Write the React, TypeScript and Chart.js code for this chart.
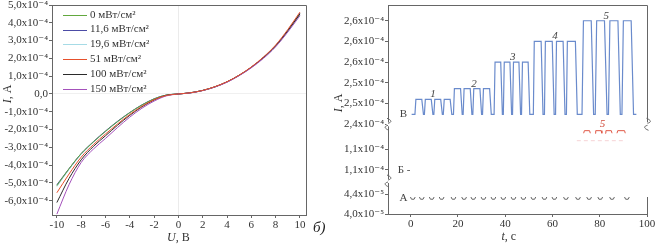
import React, { useEffect, useRef } from "react";
import { Chart, registerables } from "chart.js";

Chart.register(...registerables);

const FONT = '"Liberation Serif", "Times New Roman", "DejaVu Serif", serif';
const AXIS = "#666";
const TXT = "#333";

// ---------- Left panel: I(U) ----------
const voltage = [-10, -9, -8, -7, -6, -5, -4, -3, -2, -1, 0, 1, 2, 3, 4, 5, 6, 7, 8, 9, 10];
const seriesLabels = ["0 мВт/см²", "11,6 мВт/см²", "19,6 мВт/см²", "51 мВт/см²", "100 мВт/см²", "150 мВт/см²"];
const seriesColors = ["#62a83e", "#4c4ca6", "#a6dbe6", "#e6502c", "#2b2b2b", "#a451bb"];
const cur0 = [-5.15e-4, -4.2e-4, -3.35e-4, -2.7e-4, -2.1e-4, -1.55e-4, -1.05e-4, -0.62e-4, -0.28e-4, -0.06e-4, 0, 0.07e-4, 0.2e-4, 0.4e-4, 0.68e-4, 1.05e-4, 1.5e-4, 2.05e-4, 2.7e-4, 3.55e-4, 4.5e-4];
const cur11 = [-5.1e-4, -4.2e-4, -3.35e-4, -2.68e-4, -2.08e-4, -1.53e-4, -1.04e-4, -0.61e-4, -0.27e-4, -0.06e-4, 0, 0.07e-4, 0.2e-4, 0.4e-4, 0.68e-4, 1.05e-4, 1.5e-4, 2.06e-4, 2.72e-4, 3.58e-4, 4.55e-4];
const cur19 = [-5.2e-4, -4.25e-4, -3.4e-4, -2.72e-4, -2.12e-4, -1.56e-4, -1.06e-4, -0.63e-4, -0.28e-4, -0.06e-4, 0, 0.07e-4, 0.2e-4, 0.4e-4, 0.67e-4, 1.04e-4, 1.49e-4, 2.03e-4, 2.68e-4, 3.5e-4, 4.45e-4];
const cur51 = [-5.55e-4, -4.5e-4, -3.55e-4, -2.85e-4, -2.25e-4, -1.68e-4, -1.15e-4, -0.69e-4, -0.32e-4, -0.08e-4, 0, 0.07e-4, 0.2e-4, 0.41e-4, 0.69e-4, 1.06e-4, 1.52e-4, 2.08e-4, 2.75e-4, 3.62e-4, 4.6e-4];
const cur100 = [-6.1e-4, -4.75e-4, -3.7e-4, -2.95e-4, -2.35e-4, -1.75e-4, -1.2e-4, -0.72e-4, -0.34e-4, -0.08e-4, 0, 0.07e-4, 0.2e-4, 0.4e-4, 0.68e-4, 1.05e-4, 1.5e-4, 2.05e-4, 2.7e-4, 3.55e-4, 4.5e-4];
const cur150 = [-6.75e-4, -5.1e-4, -3.85e-4, -3.1e-4, -2.5e-4, -1.88e-4, -1.3e-4, -0.8e-4, -0.4e-4, -0.11e-4, 0, 0.06e-4, 0.19e-4, 0.39e-4, 0.66e-4, 1.03e-4, 1.47e-4, 2.0e-4, 2.65e-4, 3.48e-4, 4.4e-4];
const seriesValues = [cur0, cur11, cur19, cur51, cur100, cur150];
const seriesOrder = [3, 4, 5, 0, 2, 1];

const uTicks = [-10, -8, -6, -4, -2, 0, 2, 4, 6, 8, 10];
const leftYTicks = [-6e-4, -5e-4, -4e-4, -3e-4, -2e-4, -1e-4, 0, 1e-4, 2e-4, 3e-4, 4e-4, 5e-4];
const leftYLabels = ["-6,0x10⁻⁴", "-5,0x10⁻⁴", "-4,0x10⁻⁴", "-3,0x10⁻⁴", "-2,0x10⁻⁴", "-1,0x10⁻⁴", "0,0", "1,0x10⁻⁴", "2,0x10⁻⁴", "3,0x10⁻⁴", "4,0x10⁻⁴", "5,0x10⁻⁴"];

// ---------- Right panel: I(t) ----------
const tTicks = [0, 20, 40, 60, 80, 100];
// series В (top section)
const bBaseline = 2.424e-4;
const bStart = 0.4;
const bEnd = 95.5;
const pulseRise = [1.8, 5.8, 9.8, 13.8, 18.1, 22.2, 26.3, 30.4, 35.3, 39.2, 43.1, 46.9, 51.9, 56.6, 61.3, 65.9, 72.5, 78.1, 83.7, 89.4];
const pulseTop = [2.2, 6.2, 10.2, 14.2, 18.5, 22.6, 26.7, 30.8, 35.7, 39.6, 43.5, 47.3, 52.3, 57.0, 61.7, 66.3, 73.1, 78.7, 84.3, 90.0];
const pulseDrop = [4.7, 8.7, 12.7, 16.7, 21.1, 25.2, 29.3, 33.4, 38.1, 42.0, 45.8, 49.7, 55.2, 59.9, 64.5, 69.7, 76.4, 82.0, 87.7, 93.3];
const pulseLow = [5.4, 9.4, 13.4, 17.4, 21.8, 25.9, 30.0, 34.1, 38.8, 42.7, 46.5, 50.4, 56.0, 60.7, 65.3, 70.5, 77.4, 83.1, 88.7, 94.3];
const pulseLevel = [2.46e-4, 2.46e-4, 2.46e-4, 2.46e-4, 2.486e-4, 2.486e-4, 2.486e-4, 2.486e-4, 2.55e-4, 2.55e-4, 2.55e-4, 2.55e-4, 2.6e-4, 2.6e-4, 2.6e-4, 2.6e-4, 2.65e-4, 2.65e-4, 2.65e-4, 2.65e-4];
const groupNames = ["1", "2", "3", "4", "5"];
const groupLabelT = [9.4, 26.8, 43.2, 61.1, 82.8];
const groupLabelLevel = [2.46e-4, 2.486e-4, 2.55e-4, 2.6e-4, 2.65e-4];
// series Б (middle section)
const redStart = [73.2, 78.0, 82.3, 87.3];
const redEnd = [76.0, 80.9, 85.2, 90.8];
const redLevel = 1.156e-4;
const redEdge = 1.151e-4;
const pinkStart = 70.3;
const pinkEnd = 90.8;
const pinkLevel = 1.1366e-4;
// series А (bottom section)
const aDipCenters = [0.9, 4.7, 8.9, 13.1, 18.1, 22.6, 26.5, 30.8, 35.0, 39.2, 43.5, 47.7, 51.9, 56.6, 60.8, 65.7, 70.8, 75.5, 80.2, 85.2, 91.5];
const aTop = 4.345e-5;
const aBottom = 4.3e-5;

const bTicks = [2.4e-4, 2.45e-4, 2.5e-4, 2.55e-4, 2.6e-4, 2.65e-4];
const bLabels = ["2,4x10⁻⁴", "2,5x10⁻⁴", "2,5x10⁻⁴", "2,6x10⁻⁴", "2,6x10⁻⁴", "2,6x10⁻⁴"];
const mTicks = [1.08e-4, 1.12e-4];
const mLabels = ["1,1x10⁻⁴", "1,1x10⁻⁴"];
const aTicks = [4.0e-5, 4.4e-5];
const aLabels = ["4,0x10⁻⁵", "4,4x10⁻⁵"];

function drawParts(ctx: CanvasRenderingContext2D, parts: [string, boolean][], x: number, y: number, size: number) {
  let total = 0;
  const widths = parts.map(([t, it]) => {
    ctx.font = `${it ? "italic " : ""}${size}px ${FONT}`;
    const w = ctx.measureText(t).width;
    total += w;
    return w;
  });
  let cx = x - total / 2;
  ctx.textAlign = "left";
  ctx.textBaseline = "middle";
  parts.forEach(([t, it], i) => {
    ctx.font = `${it ? "italic " : ""}${size}px ${FONT}`;
    ctx.fillText(t, cx, y);
    cx += widths[i];
  });
}

function drawBreak(ctx: CanvasRenderingContext2D, x: number, y: number) {
  ctx.save();
  ctx.fillStyle = "#fff";
  ctx.fillRect(x - 1.5, y - 2, 3, 4);
  ctx.strokeStyle = AXIS;
  ctx.lineWidth = 1;
  ctx.beginPath();
  ctx.moveTo(x - 1, y - 6);
  ctx.bezierCurveTo(x + 4, y - 4, x + 4, y - 2, x, y - 1);
  ctx.moveTo(x, y + 1);
  ctx.bezierCurveTo(x - 4, y + 2, x - 4, y + 4, x + 1, y + 6);
  ctx.stroke();
  ctx.restore();
}

const tickFont = { family: FONT, size: 11 };

function labelFrom(values: number[], labels: string[]) {
  return (v: number | string) => {
    const n = Number(v);
    let best = 0;
    values.forEach((tv, i) => {
      if (Math.abs(tv - n) < Math.abs(values[best] - n)) best = i;
    });
    return labels[best];
  };
}

const leftDecor = {
  id: "leftDecor",
  afterDraw(chart: any) {
    const ctx: CanvasRenderingContext2D = chart.ctx;
    const ca = chart.chartArea;
    ctx.save();
    ctx.strokeStyle = AXIS;
    ctx.lineWidth = 1;
    ctx.beginPath();
    ctx.moveTo(ca.left, ca.top + 0.5);
    ctx.lineTo(ca.right + 0.5, ca.top + 0.5);
    ctx.lineTo(ca.right + 0.5, ca.bottom);
    ctx.stroke();
    // legend
    seriesLabels.forEach((lab, k) => {
      const y = ca.top + 9.7 + k * 14.8;
      ctx.strokeStyle = seriesColors[k];
      ctx.beginPath();
      ctx.moveTo(ca.left + 11, Math.round(y) + 0.5);
      ctx.lineTo(ca.left + 35, Math.round(y) + 0.5);
      ctx.stroke();
      ctx.fillStyle = TXT;
      ctx.font = `11px ${FONT}`;
      ctx.textAlign = "left";
      ctx.textBaseline = "middle";
      ctx.fillText(lab, ca.left + 38, y);
    });
    // titles
    ctx.fillStyle = TXT;
    drawParts(ctx, [["U", true], [", В", false]], chart.scales.x.getPixelForValue(0), 237.5, 12);
    ctx.save();
    ctx.translate(8, chart.scales.y.getPixelForValue(0));
    ctx.rotate(-Math.PI / 2);
    drawParts(ctx, [["I", true], [", А", false]], 0, 0, 12);
    ctx.restore();
    ctx.restore();
  },
};

const rightDecor = {
  id: "rightDecor",
  afterDraw(chart: any) {
    const ctx: CanvasRenderingContext2D = chart.ctx;
    const ca = chart.chartArea;
    const x = chart.scales.x;
    const yB = chart.scales.yB;
    const yM = chart.scales.yM;
    const yA = chart.scales.yA;
    ctx.save();
    ctx.strokeStyle = AXIS;
    ctx.lineWidth = 1;
    ctx.beginPath();
    ctx.moveTo(ca.left, ca.top + 0.5);
    ctx.lineTo(ca.right + 0.5, ca.top + 0.5);
    ctx.lineTo(ca.right + 0.5, yB.bottom);
    ctx.moveTo(ca.right + 0.5, ca.bottom - 17);
    ctx.lineTo(ca.right + 0.5, ca.bottom);
    ctx.stroke();
    drawBreak(ctx, ca.left, yB.bottom);
    drawBreak(ctx, ca.left, yM.bottom);
    drawBreak(ctx, ca.right + 0.5, yB.bottom);

    // group numbers
    ctx.fillStyle = "#444";
    ctx.font = `italic 11px ${FONT}`;
    ctx.textAlign = "center";
    ctx.textBaseline = "alphabetic";
    groupNames.forEach((g, i) => {
      ctx.fillText(g, x.getPixelForValue(groupLabelT[i]), yB.getPixelForValue(groupLabelLevel[i]) - 2);
    });
    ctx.fillStyle = "#d04a3a";
    ctx.fillText("5", x.getPixelForValue(81.2), yM.getPixelForValue(redLevel) - 4);

    // series letters
    ctx.fillStyle = "#444";
    ctx.font = `11px ${FONT}`;
    ctx.textBaseline = "middle";
    ctx.fillText("В", x.getPixelForValue(-3.1), yB.getPixelForValue(bBaseline));
    ctx.fillText("Б -", x.getPixelForValue(-2.8), yM.getPixelForValue(1.08e-4));
    ctx.fillText("А", x.getPixelForValue(-3.1), yA.getPixelForValue(aTop) + 1);

    // titles
    ctx.fillStyle = TXT;
    drawParts(ctx, [["t", true], [", с", false]], x.getPixelForValue(41.5), 237, 12);
    ctx.save();
    ctx.translate(14, 103);
    ctx.rotate(-Math.PI / 2);
    drawParts(ctx, [["I", true], [", А", false]], 0, 0, 12);
    ctx.restore();
    ctx.restore();
  },
};

function yAxisBase(extra: any) {
  return {
    type: "linear",
    position: "left",
    afterFit: (s: any) => {
      s.width = 63;
      s.paddingTop = 0;
      s.paddingBottom = 0;
    },
    grid: { drawOnChartArea: false, tickLength: 3, tickColor: AXIS, color: AXIS },
    border: { color: AXIS },
    ...extra,
  };
}

export default function App() {
  const leftRef = useRef<HTMLCanvasElement>(null);
  const rightRef = useRef<HTMLCanvasElement>(null);

  useEffect(() => {
    document.body.style.margin = "0";

    const left = new Chart(leftRef.current as HTMLCanvasElement, {
      type: "scatter",
      data: {
        datasets: seriesValues.map((vals, k) => ({
          label: seriesLabels[k],
          data: voltage.map((u, i) => ({ x: u, y: vals[i] })),
          showLine: true,
          borderColor: seriesColors[k],
          backgroundColor: seriesColors[k],
          borderWidth: 1,
          pointRadius: 0,
          cubicInterpolationMode: "monotone",
          order: seriesOrder[k],
        })),
      },
      options: {
        responsive: false,
        animation: false,
        devicePixelRatio: 1,
        layout: { padding: { left: 0, right: 14, top: 5, bottom: 0 } },
        plugins: { legend: { display: false }, tooltip: { enabled: false } },
        scales: {
          x: {
            type: "linear",
            min: -10.4,
            max: 10.5,
            afterBuildTicks: (s: any) => {
              s.ticks = uTicks.map((v) => ({ value: v }));
            },
            afterFit: (s: any) => {
              s.height = 29;
              s.paddingLeft = 0;
              s.paddingRight = 0;
            },
            ticks: { font: tickFont, color: TXT, padding: 1, maxRotation: 0, autoSkip: false, callback: (v: any) => String(v) },
            grid: {
              color: (c: any) => (c.tick && c.tick.value === 0 ? "#ebebeb" : "rgba(0,0,0,0)"),
              tickColor: AXIS,
              tickLength: 3,
            },
            border: { color: AXIS },
          },
          y: {
            type: "linear",
            min: -6.8e-4,
            max: 5e-4,
            afterBuildTicks: (s: any) => {
              s.ticks = leftYTicks.map((v) => ({ value: v }));
            },
            afterFit: (s: any) => {
              s.width = 52;
              s.paddingTop = 0;
              s.paddingBottom = 0;
            },
            ticks: { font: tickFont, color: TXT, padding: 1, autoSkip: false, callback: labelFrom(leftYTicks, leftYLabels) },
            grid: {
              color: (c: any) => (c.tick && Math.abs(c.tick.value) < 1e-12 ? "#f0f0f0" : "rgba(0,0,0,0)"),
              tickColor: AXIS,
              tickLength: 3,
            },
            border: { color: AXIS },
          },
        },
      } as any,
      plugins: [leftDecor],
    } as any);

    // build right datasets
    const bData: any[] = [{ x: bStart, y: bBaseline }];
    pulseRise.forEach((r, i) => {
      bData.push({ x: r, y: bBaseline });
      bData.push({ x: pulseTop[i], y: pulseLevel[i] });
      bData.push({ x: pulseDrop[i], y: pulseLevel[i] });
      bData.push({ x: pulseLow[i], y: bBaseline });
    });
    bData.push({ x: bEnd, y: bBaseline });

    const aData: any[] = [];
    aDipCenters.forEach((c) => {
      aData.push({ x: c - 1.0, y: aTop });
      aData.push({ x: c - 0.55, y: aBottom });
      aData.push({ x: c + 0.55, y: aBottom });
      aData.push({ x: c + 1.0, y: aTop });
      aData.push({ x: c + 1.5, y: null });
    });

    const redData: any[] = [];
    redStart.forEach((s, i) => {
      redData.push({ x: s, y: redEdge });
      redData.push({ x: s + 0.3, y: redLevel });
      redData.push({ x: redEnd[i] - 0.3, y: redLevel });
      redData.push({ x: redEnd[i], y: redEdge });
      redData.push({ x: redEnd[i] + 0.5, y: null });
    });

    const right = new Chart(rightRef.current as HTMLCanvasElement, {
      type: "scatter",
      data: {
        datasets: [
          { data: bData, yAxisID: "yB", showLine: true, borderColor: "#6a8bcc", borderWidth: 1.2, pointRadius: 0, tension: 0 },
          { data: redData, yAxisID: "yM", showLine: true, spanGaps: false, borderColor: "#e05a48", borderWidth: 1, pointRadius: 0 },
          {
            data: [{ x: pinkStart, y: pinkLevel }, { x: pinkEnd, y: pinkLevel }],
            yAxisID: "yM",
            showLine: true,
            borderColor: "#f6d3d6",
            borderDash: [4, 3],
            borderWidth: 1,
            pointRadius: 0,
          },
          { data: aData, yAxisID: "yA", showLine: true, spanGaps: false, borderColor: "#666", borderWidth: 1, pointRadius: 0 },
        ],
      },
      options: {
        responsive: false,
        animation: false,
        devicePixelRatio: 1,
        layout: { padding: { left: 0, right: 9, top: 5, bottom: 0 } },
        plugins: { legend: { display: false }, tooltip: { enabled: false } },
        scales: {
          x: {
            type: "linear",
            min: -9.6,
            max: 100,
            afterBuildTicks: (s: any) => {
              s.ticks = tTicks.map((v) => ({ value: v }));
            },
            afterFit: (s: any) => {
              s.height = 30;
              s.paddingLeft = 0;
              s.paddingRight = 0;
            },
            ticks: { font: tickFont, color: TXT, padding: 1, maxRotation: 0, autoSkip: false, callback: (v: any) => String(v) },
            grid: { drawOnChartArea: false, tickColor: AXIS, tickLength: 3 },
            border: { color: AXIS },
          },
          yB: yAxisBase({
            stack: "i",
            stackWeight: 119.3,
            weight: 3,
            min: 2.4e-4,
            max: 2.688e-4,
            afterBuildTicks: (s: any) => {
              s.ticks = bTicks.map((v) => ({ value: v }));
            },
            ticks: { font: tickFont, color: TXT, padding: 1, autoSkip: false, callback: labelFrom(bTicks, bLabels) },
          }),
          yM: yAxisBase({
            stack: "i",
            stackWeight: 56.7,
            weight: 2,
            min: 1.0587e-4,
            max: 1.1683e-4,
            afterBuildTicks: (s: any) => {
              s.ticks = mTicks.map((v) => ({ value: v }));
            },
            ticks: { font: tickFont, color: TXT, padding: 1, autoSkip: false, callback: labelFrom(mTicks, mLabels) },
          }),
          yA: yAxisBase({
            stack: "i",
            stackWeight: 33,
            weight: 1,
            min: 4.0e-5,
            max: 4.67e-5,
            afterBuildTicks: (s: any) => {
              s.ticks = aTicks.map((v) => ({ value: v }));
            },
            ticks: { font: tickFont, color: TXT, padding: 1, autoSkip: false, callback: labelFrom(aTicks, aLabels) },
          }),
        },
      } as any,
      plugins: [rightDecor],
    } as any);

    return () => {
      left.destroy();
      right.destroy();
    };
  }, []);

  return (
    <div style={{ position: "relative", width: 656, height: 244, background: "#fff", overflow: "hidden" }}>
      <canvas ref={leftRef} width={320} height={244} style={{ position: "absolute", left: 0, top: 0, width: 320, height: 244 }} />
      <canvas ref={rightRef} width={331} height={244} style={{ position: "absolute", left: 325, top: 0, width: 331, height: 244 }} />
      <span
        style={{
          position: "absolute",
          left: 313,
          top: 219,
          font: `italic 15px ${FONT}`,
          color: "#222",
          lineHeight: "16px",
        }}
      >
        б)
      </span>
    </div>
  );
}
